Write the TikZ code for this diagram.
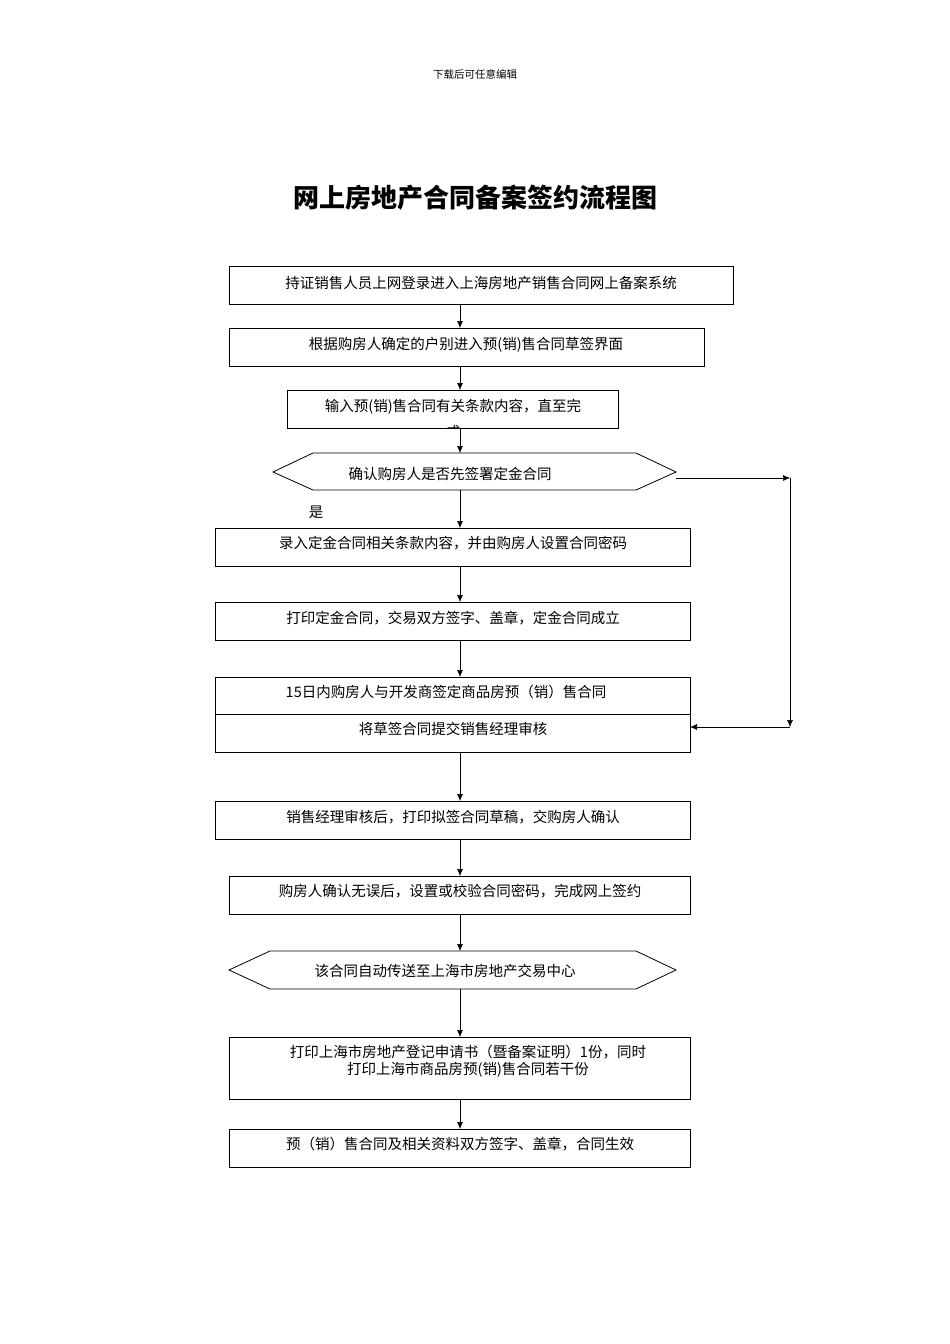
\documentclass[tikz,border=0pt]{standalone}
\usepackage{fontspec}
\usetikzlibrary{arrows.meta}
\setmainfont{Liberation Serif}
\newfontfamily\cjk{Noto Sans CJK SC}
\begin{document}
\begin{tikzpicture}[x=1pt,y=-1pt,
 bx/.style={draw,thick,inner sep=0pt},
 lbl/.style={font=\cjk\fontsize{14.5}{17}\selectfont,inner sep=0pt},
 arr/.style={-{Latex[length=7pt,width=6pt]},semithick}]
\useasboundingbox (0,0) rectangle (950,1344);
\fill[white] (0,0) rectangle (950,1344);
\node[font=\cjk\fontsize{10.5}{12}\selectfont] (hd) at (475,74) {下载后可任意编辑};
\node[font=\cjk\bfseries\fontsize{26}{30}\selectfont] (tt) at (475,198) {网上房地产合同备案签约流程图};
% boxes
\draw[bx] (229,266) rectangle (733,304); \node[lbl] (b1) at (481,283) {持证销售人员上网登录进入上海房地产销售合同网上备案系统};
\draw[bx] (229,328) rectangle (704,366); \node[lbl] (b2) at (466,345) {根据购房人确定的户别进入预(销)售合同草签界面};
\draw[bx] (287,390) rectangle (618,428); \node[lbl] (b3) at (453,407) {输入预(销)售合同有关条款内容，直至完};
\begin{scope}\clip (287,390) rectangle (618,427);\node[lbl] at (453,432) {成};\end{scope}
\draw[bx] (273,472) -- (313,453) -- (636,453) -- (676,472) -- (636,490) -- (313,490) -- cycle;
\node[lbl] (h1) at (450,474) {确认购房人是否先签署定金合同};
\node[lbl] (yes) at (316,512) {是};
\draw[bx] (215,528) rectangle (690,566); \node[lbl] (b4) at (453,543) {录入定金合同相关条款内容，并由购房人设置合同密码};
\draw[bx] (215,602) rectangle (690,640); \node[lbl] (b5) at (453,618) {打印定金合同，交易双方签字、盖章，定金合同成立};
\draw[bx] (215,677) rectangle (690,752); \draw[thick] (215,714) -- (690,714);
\node[lbl] (b6) at (446,692) {15日内购房人与开发商签定商品房预（销）售合同};
\node[lbl] (b6b) at (453,729) {将草签合同提交销售经理审核};
\draw[bx] (215,801) rectangle (690,839); \node[lbl] (b7) at (453,817) {销售经理审核后，打印拟签合同草稿，交购房人确认};
\draw[bx] (229,876) rectangle (690,914); \node[lbl] (b8) at (460,891) {购房人确认无误后，设置或校验合同密码，完成网上签约};
\draw[bx] (229,970) -- (270,951) -- (636,951) -- (676,970) -- (636,989) -- (270,989) -- cycle;
\node[lbl] (h2) at (445,971) {该合同自动传送至上海市房地产交易中心};
\draw[bx] (229,1037) rectangle (690,1099);
\node[lbl,align=center] (b9) at (468,1061) {打印上海市房地产登记申请书（暨备案证明）1份，同时\\打印上海市商品房预(销)售合同若干份};
\draw[bx] (229,1129) rectangle (690,1167); \node[lbl] (b10) at (460,1144) {预（销）售合同及相关资料双方签字、盖章，合同生效};
% arrows
\foreach \a/\b in {304/328,366/390,428/453,490/528,566/602,640/677,752/801,839/876,914/951,989/1037,1099/1129}
  \draw[arr] (460,\a) -- (460,\b);
\coordinate (r1) at (790,478); \coordinate (r2) at (790,727);
\draw[arr] (676,478) -- (r1);
\draw[arr] (r1) -- (r2);
\draw[arr] (r2) -- (690,727);
\end{tikzpicture}
\end{document}
